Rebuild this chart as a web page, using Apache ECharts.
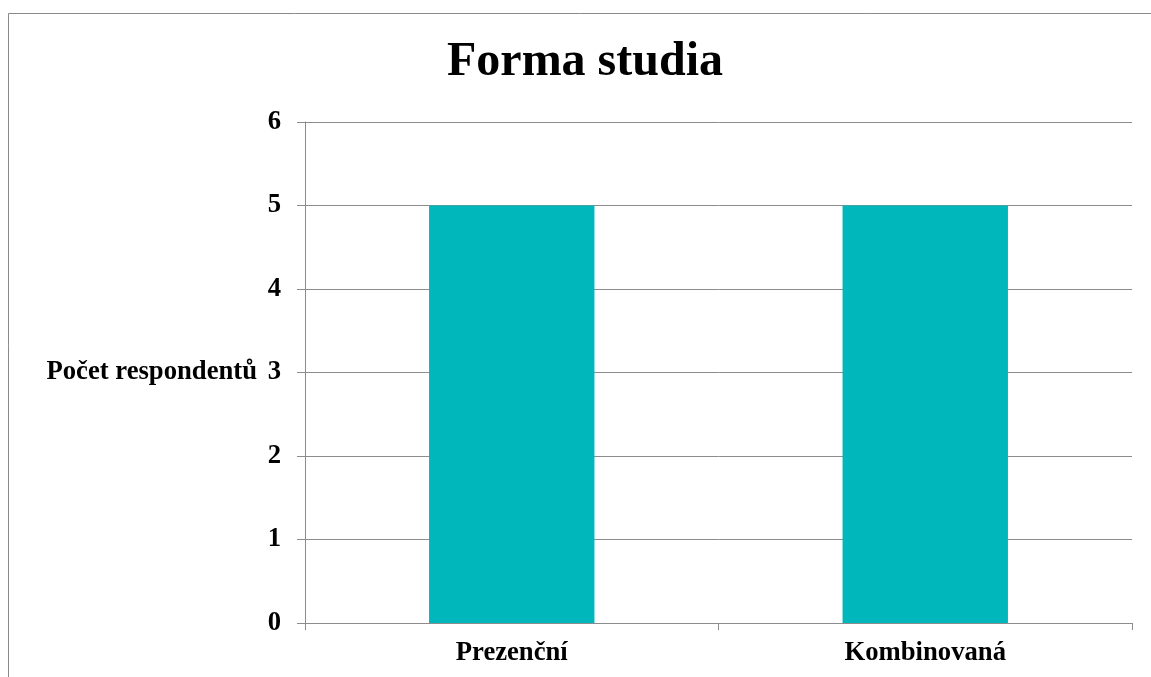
<!DOCTYPE html>
<html>
<head>
<meta charset="utf-8">
<script src="https://cdn.jsdelivr.net/npm/echarts@6/dist/echarts.min.js"></script>
<style>
  html, body { margin: 0; padding: 0; background: #fff; }
  #chart { width: 1151px; height: 677px; }
</style>
</head>
<body>
<div id="chart"></div>
<script>
// Study form: number of respondents per category
const chartTitle = 'Forma studia';
const yAxisName = 'Počet respondentů';
const categories = ['Prezenční', 'Kombinovaná'];
const respondents = [5, 5];
const yTicks = [0, 1, 2, 3, 4, 5, 6];

const serif = '"Liberation Serif", "Times New Roman", serif';
const lineGray = '#8c8c8c';
const labelSize = 26.67;

const chart = echarts.init(document.getElementById('chart'));
chart.setOption({
  backgroundColor: '#ffffff',
  animation: false,
  title: {
    text: chartTitle,
    left: 580,
    textAlign: 'center',
    top: 34,
    textStyle: { fontFamily: serif, fontWeight: 'bold', fontSize: 48, color: '#000' }
  },
  graphic: [{
    type: 'rect',
    shape: { x: 8.5, y: 13.5, width: 1300, height: 800 },
    style: { fill: 'none', stroke: '#8a8a8a', lineWidth: 1 },
    silent: true,
    z: -1
  }],
  grid: { left: 305, right: 19, top: 122, bottom: 54 },
  xAxis: {
    type: 'category',
    data: categories,
    axisLine: { lineStyle: { color: lineGray, width: 1 } },
    axisTick: { show: true, alignWithLabel: false, length: 7, lineStyle: { color: lineGray } },
    axisLabel: { fontFamily: serif, fontWeight: 'bold', fontSize: labelSize, color: '#000', margin: 17 }
  },
  yAxis: {
    type: 'value',
    min: yTicks[0],
    max: yTicks[yTicks.length - 1],
    interval: 1,
    name: yAxisName,
    nameLocation: 'middle',
    nameRotate: 0,
    nameGap: 48,
    nameTextStyle: { fontFamily: serif, fontWeight: 'bold', fontSize: labelSize, color: '#000', align: 'right' },
    axisLine: { show: true, lineStyle: { color: lineGray, width: 1 } },
    axisTick: { show: true, length: 8, lineStyle: { color: lineGray } },
    axisLabel: { fontFamily: serif, fontWeight: 'bold', fontSize: labelSize, color: '#000', margin: 24 },
    splitLine: { show: true, lineStyle: { color: lineGray, width: 1 } }
  },
  series: [{
    type: 'bar',
    data: respondents,
    barWidth: '40%',
    itemStyle: { color: '#00B7BC' }
  }]
});
</script>
</body>
</html>
